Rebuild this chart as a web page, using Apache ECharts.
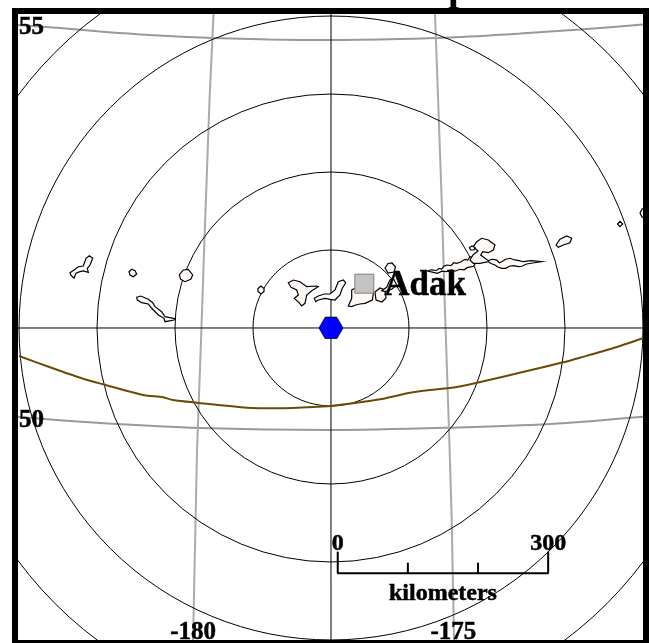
<!DOCTYPE html>
<html>
<head>
<meta charset="utf-8">
<style>html,body{margin:0;padding:0;background:#fff}#chart{width:649px;height:643px}</style>
<script src="https://cdn.jsdelivr.net/npm/echarts@6/dist/echarts.min.js"></script>
</head>
<body>
<div id="chart"></div>
<script>
// all map values are kilometres east / north of the epicentre
const ringRadiiKm = [111.2, 222.4, 333.6, 444.8, 556];
const eastWestLine = [[-447, 0], [446, 0]];
const northSouthLine = [[0, -446], [0, 449]];
const parallel55 = [[-446.2,432],[-386.4,427.7],[-329.3,422.7],[-258,417.7],[-168.2,413.5],[-87,411.3],[0,410.6],[98.4,412],[169.7,414.2],[269.5,419.9],[355,425.6],[444.8,432.7]];
const parallel50 = [[-446.2,-126.9],[-329.3,-135.4],[-186.8,-142.6],[0,-145.4],[169.7,-142.1],[312.2,-136.9],[444.8,-126.5]];
const meridian180 = [[-167.5,447.7],[-173.2,325],[-180.4,125.5],[-185.3,-17.1],[-191,-173.9],[-196.7,-444.8]];
const meridian175 = [[148.3,447.7],[150.7,382.1],[157.8,182.5],[162.5,25.7],[168.7,-159.7],[172.1,-273.7],[175.4,-444.8]];
const trench = [[-444.8,-39.9],[-400.6,-56],[-355.4,-71.7],[-325,-80.3],[-268,-95.5],[-239.5,-98.8],[-225.3,-102.6],[-191,-106.5],[-119.8,-113.6],[-77,-114.5],[-20,-112.2],[-1.4,-111.2],[31.4,-107.4],[69.9,-101.7],[116.9,-91.7],[176.8,-84.5],[208.2,-78],[279.4,-61.3],[330.8,-48.9],[355,-42.3],[402,-28.9],[444.8,-14.7]];

const islandAttu = [[-372.1,78.8],[-365,83.7],[-360.3,87.4],[-353.1,88.4],[-349.3,99.4],[-344.6,103.1],[-339.7,99.4],[-343.6,89.8],[-347.4,85.1],[-346,79.4],[-353.1,81.3],[-357.9,80.3],[-363.6,78],[-366.4,70.9],[-371.1,75.6]];
const islandB = [[-288,80.3],[-284.1,83.7],[-279.4,81.7],[-277,77],[-281.9,73.1],[-286.6,75.6]];
const islandC = [[-216.3,75.6],[-210.6,82.7],[-203.5,83.7],[-197.2,75.6],[-200,69.4],[-208.2,66],[-214.3,69.4]];
const islandD = [[-277,43.8],[-271.3,45.6],[-260.5,40.9],[-254.2,36.1],[-250.9,30.4],[-241.4,23.2],[-236.7,16.1],[-222.4,13.3],[-223.8,11.4],[-236.7,9],[-238.1,13.8],[-246.2,18.5],[-255.6,28.1],[-260.5,34.2],[-269.9,36.1],[-276.2,39.9]];
const islandE = [[-104.1,56.3],[-99.8,59.9],[-95.5,56.3],[-95.5,52],[-99.8,48.5],[-104.1,52]];
const islandF = [[-60.9,64.6],[-53.7,68.4],[-44.2,66],[-34.6,58.9],[-20.4,59.9],[-18.1,58.9],[-27.5,53.2],[-34.6,47],[-37.1,35.2],[-41.8,31.4],[-45.6,36.1],[-52.3,42.3],[-46.6,47],[-48.9,54.2],[-57,58]];
const islandG = [[-23.8,42.3],[-18.1,45.6],[-9.6,48.5],[-1.4,48.5],[5.7,54.2],[10.4,66],[17.5,68.4],[21,64.6],[16.1,56.6],[12.8,47],[5.7,39.9],[-1.4,40.9],[-8.6,42.3],[-18.1,39.9],[-21.8,37.5]];
const islandAdak = [[24.7,31.4],[29.5,42.3],[29.5,54.2],[34.2,56.6],[60.3,56.6],[60.3,48.5],[58.9,39.9],[48.5,35.2],[41.3,34.2],[35.2,32.8],[29.5,30.4]];
const islandI = [[62.7,51.3],[69.9,57],[77,54.2],[78.4,42.8],[72.7,37.1],[64.2,39.9]];
const islandP = [[77,85.5],[81.3,92],[87,92.7],[92,87],[89.8,79.8],[81.3,78.4]];
const islandQ = [[72.3,53.2],[79.4,58],[84.1,68.4],[88.8,70.9],[93.7,61.3],[86.5,55.2],[77,51.8]];
const islandK = [[137.3,81.3],[143,83],[150.7,82],[154,85],[157.8,84.1],[161,88],[165,89.8],[171,89],[175,93],[179.2,92.2],[185,94],[191,97.9],[195,97],[198.2,101.7],[205.3,99.8],[212.4,94.5],[206,92],[203,88],[200.6,87.4],[194,86],[190,83],[183.9,83.7],[177,81],[172,83],[165,80.3],[158,81],[152,78],[145.9,79.4]];
const islandL = [[202.9,115.9],[207.7,123],[214.9,127.9],[224.3,125.5],[233.8,118.3],[231.4,111.2],[224.3,107.4],[216.3,108.8],[213.4,104.1],[224.3,96],[230,98],[236.2,96.9],[240,93],[243.4,94.5],[249,98],[255.2,99.4],[262,97],[268,96],[274.2,94.5],[285,96],[300.4,94.5],[290,93],[279,91.2],[272,88],[267,87.4],[261,89],[255.2,88.4],[249,85],[243.4,85.1],[238,87],[233.8,89.8],[228,92],[224.3,94.5],[212.4,92.2],[202.9,92.2],[198.2,96.9],[202.4,104.1],[209.6,109.8]];
const islandL2 = [[197.5,114.8],[201,116.9],[205.3,114.8],[203.9,111.2],[198.9,111.2]];
const islandM = [[320.8,118.3],[326.5,126.5],[336,131.2],[343.2,127.9],[340.7,121.6],[331.2,118.3],[324.1,115]];
const islandN = [[408.5,148.3],[412,152.1],[415.9,148.3],[412,144.4]];
const islandO = [[440.6,164],[443.4,169.7],[448,171],[448,156],[443.4,158.3]];
const islands = [islandAttu, islandB, islandC, islandD, islandE, islandF, islandG, islandAdak, islandI, islandP, islandQ, islandK, islandL, islandL2, islandM, islandN, islandO];

const epicentre = [[0, 0]];
const epicentreCap = [[-8.5, 15], [8.5, 15]];
const adakStation = [[47.5, 63.2]];
const adakLabel = [76, 60, 'Adak'];
const cornerLabels = [[-444.8, 428, '55'], [-444.8, -132.5, '50']];
const bottomLabels = [[-196.5, -434.5, '-180'], [174.5, -434.5, '-175']];
const scaleTicks = [0, 100, 200, 300];
const scaleOrigin = 9.6;
const scaleBaseY = -349.7;
const scaleMajorTop = -318.9;
const scaleMinorTop = -334.6;
const scaleUnit = 'kilometers';
const titleText = 'p';

const serif = '"Liberation Serif", serif';
const chart = echarts.init(document.getElementById('chart'), null, {renderer: 'canvas'});

function lineSeries(data, color, width, z, smooth) {
  return {type: 'line', data, showSymbol: false, symbol: 'none', smooth: smooth || false, silent: true, z,
    lineStyle: {color, width}};
}
function textElement(pos, text, size, align) {
  return {type: 'text', x: pos[0], y: pos[1], silent: true,
    style: {text, font: 'bold ' + size + 'px ' + serif, fill: '#000', stroke: '#000', lineWidth: 0.5, align, verticalAlign: 'middle'}};
}

const scaleBar = [];
scaleTicks.forEach((t, i) => {
  const top = (i === 0 || i === scaleTicks.length - 1) ? scaleMajorTop : scaleMinorTop;
  scaleBar.push({ value: [scaleOrigin + t, top, scaleOrigin + t, scaleBaseY] });
});

chart.setOption({
  animation: false,
  backgroundColor: '#fff',
  title: {text: titleText, left: 448, top: -30, padding: 0,
    textStyle: {fontFamily: serif, fontWeight: 'bold', fontSize: 40, color: '#000'}},
  grid: {left: 18, right: 6, top: 14, bottom: 3, containLabel: false},
  xAxis: {type: 'value', min: -446.25, max: 444.83, show: false},
  yAxis: {type: 'value', min: -444.83, max: 447.68, show: false},
  graphic: [{type: 'rect', z: 1000, silent: true, shape: {x: 15, y: 11, width: 631, height: 632},
    style: {fill: 'none', stroke: '#000', lineWidth: 6}}],
  series: [
    lineSeries(parallel55, '#999', 2, 2, 0.3),
    lineSeries(parallel50, '#999', 2, 2, 0.3),
    lineSeries(meridian180, '#aaa', 2, 2),
    lineSeries(meridian175, '#aaa', 2, 2),
    {type: 'custom', clip: true, silent: true, z: 3, data: ringRadiiKm.map((r) => [r, 0]),
      renderItem(params, api) {
        const c = api.coord([0, 0]);
        const e = api.coord([api.value(0), 0]);
        return {type: 'circle', shape: {cx: c[0], cy: c[1], r: e[0] - c[0]},
          style: {fill: 'none', stroke: '#000', lineWidth: 1}};
      }},
    lineSeries(eastWestLine, '#000', 1, 3),
    lineSeries(northSouthLine, '#000', 1, 3),
    lineSeries(trench, '#6b4a06', 2, 4, 0.25),
    {type: 'custom', clip: true, silent: true, z: 5, data: islands.map((_, i) => [i, 0]),
      renderItem(params, api) {
        const pts = islands[params.dataIndex].map((p) => api.coord(p));
        return {type: 'polygon', shape: {points: pts},
          style: {fill: '#fff9f5', stroke: '#000', lineWidth: 1.2}};
      }},
    {type: 'scatter', data: adakStation, symbol: 'rect', symbolSize: 19, silent: true, z: 6,
      itemStyle: {color: '#c4c4c4', borderColor: '#808080', borderWidth: 1, opacity: 1}},
    {type: 'scatter', data: epicentre, symbol: 'path://M0 10 L6 0 L18 0 L24 10 L18 20 L6 20 Z', symbolSize: [24, 21], silent: true, z: 6,
      itemStyle: {color: '#0000ff', borderColor: '#000050', borderWidth: 0.8, opacity: 1}},
    lineSeries(epicentreCap, '#000', 1.5, 6),
    {type: 'custom', clip: false, silent: true, z: 7, data: scaleBar,
      renderItem(params, api) {
        const top = api.coord([api.value(0), api.value(1)]);
        const bot = api.coord([api.value(2), api.value(3)]);
        return {type: 'line', shape: {x1: top[0], y1: top[1], x2: bot[0], y2: bot[1]},
          style: {stroke: '#000', lineWidth: 2}};
      }},
    lineSeries([[scaleOrigin - 0.7, scaleBaseY], [scaleOrigin + 300.7, scaleBaseY]], '#000', 2, 7),
    {type: 'custom', clip: false, silent: true, z: 8, data: [adakLabel],
      renderItem(params, api) {
        return textElement(api.coord([api.value(0), api.value(1)]), adakLabel[2], 35, 'left');
      }},
    {type: 'custom', clip: false, silent: true, z: 8, data: cornerLabels.map((d) => [d[0], d[1]]),
      renderItem(params, api) {
        return textElement(api.coord([api.value(0), api.value(1)]), cornerLabels[params.dataIndex][2], 25, 'left');
      }},
    {type: 'custom', clip: false, silent: true, z: 8, data: bottomLabels.map((d) => [d[0], d[1]]),
      renderItem(params, api) {
        return textElement(api.coord([api.value(0), api.value(1)]), bottomLabels[params.dataIndex][2], 25, 'center');
      }},
    {type: 'custom', clip: false, silent: true, z: 8, data: [[scaleOrigin, -308], [scaleOrigin + 300, -308]],
      renderItem(params, api) {
        const lab = params.dataIndex === 0 ? String(scaleTicks[0]) : String(scaleTicks[3]);
        return textElement(api.coord([api.value(0), api.value(1)]), lab, 24, 'center');
      }},
    {type: 'custom', clip: false, silent: true, z: 8, data: [[159.6, -379]],
      renderItem(params, api) {
        return textElement(api.coord([api.value(0), api.value(1)]), scaleUnit, 24, 'center');
      }}
  ]
});
</script>
</body>
</html>
